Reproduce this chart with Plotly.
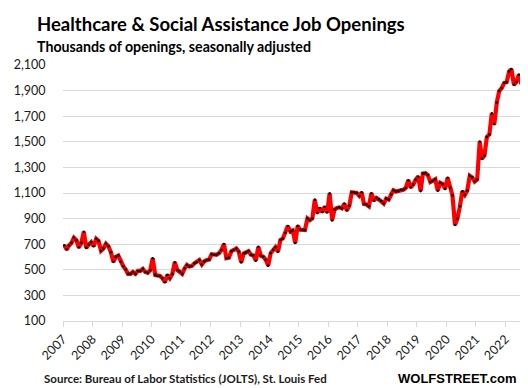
import pandas as pd
import plotly.graph_objects as go

# Monthly job openings (thousands), Jan 2007 - Oct 2022
start_month = "2007-01-01"
openings = [
    692, 658, 690, 710, 750, 731, 674, 710, 797, 671, 697, 716,      # 2007
    684, 742, 726, 648, 666, 703, 684, 637, 562, 601, 611, 562,      # 2008
    528, 502, 468, 468, 483, 468, 491, 491, 507, 483, 476, 496,      # 2009
    590, 460, 452, 452, 434, 403, 460, 434, 468, 559, 499, 486,      # 2010
    468, 512, 538, 525, 530, 551, 560, 576, 542, 566, 576, 580,      # 2011
    622, 617, 617, 630, 655, 702, 590, 594, 645, 655, 666, 643,      # 2012
    558, 627, 636, 646, 618, 612, 571, 680, 610, 602, 578, 532,      # 2013
    630, 656, 676, 641, 733, 745, 790, 842, 800, 808, 709, 843,      # 2014
    813, 813, 810, 902, 888, 902, 1048, 943, 983, 951, 993, 948,     # 2015
    1097, 886, 970, 983, 988, 980, 1017, 964, 1001, 1105, 1105, 1100,  # 2016
    1077, 1105, 1014, 1010, 996, 1098, 1040, 1062, 1050, 1038, 1017, 1056,  # 2017
    1048, 1088, 1121, 1112, 1115, 1125, 1125, 1139, 1200, 1143, 1166, 1203,  # 2018
    1229, 1115, 1252, 1255, 1240, 1186, 1195, 1207, 1118, 1180, 1170, 1132,  # 2019
    1219, 1140, 1080, 850, 900, 996, 1114, 1085, 1120, 1235, 1222, 1190,     # 2020
    1206, 1502, 1369, 1392, 1537, 1558, 1722, 1637, 1806, 1898, 1920, 1960,  # 2021
    1966, 2050, 2068, 1945, 1967, 2025, 1952, 1980, 2085, 2005,              # 2022
]
y_tick_values = [100, 300, 500, 700, 900, 1100, 1300, 1500, 1700, 1900, 2100]
y_tick_labels = ["100", "300", "500", "700", "900", "1,100", "1,300", "1,500",
                 "1,700", "1,900", "2,100"]
title_text = "Healthcare & Social Assistance Job Openings"
subtitle_text = "Thousands of openings, seasonally adjusted"
source_text = "Source: Bureau of Labor Statistics (JOLTS), St. Louis Fed"
brand_text = "WOLFSTREET.com"

months = pd.date_range(start_month, periods=len(openings), freq="MS")
dates = months + pd.Timedelta(days=15)
x_end = (months[-1] + pd.offsets.MonthBegin(1))

W, H = 528, 388
ML, MR, MT, MB = 44, 6, 57, 75
PW, PH = W - ML - MR, H - MT - MB


def px_x(px):
    return (px - ML) / PW


def px_y(py):
    return (H - MB - py) / PH


fig = go.Figure()
fig.add_trace(go.Scatter(
    x=dates, y=openings, mode="lines+markers",
    line=dict(color="#ff0000", width=4.2),
    marker=dict(color="#000000", size=2.6),
    hoverinfo="skip", showlegend=False,
))

fig.update_layout(
    width=W, height=H,
    margin=dict(l=ML, r=MR, t=MT, b=MB),
    paper_bgcolor="white", plot_bgcolor="white",
    font=dict(family="Lato", color="#1a1a1a"),
    xaxis=dict(
        type="date",
        range=[months[0], x_end],
        tick0=start_month, dtick="M12", tickformat="%Y",
        tickangle=-45,
        showgrid=False, showline=True, linecolor="#d9d9d9", linewidth=1,
        ticks="outside", ticklen=5, tickcolor="#d9d9d9",
        tickfont=dict(family="Lato", size=12.5, color="#1a1a1a"),
        zeroline=False,
    ),
    yaxis=dict(
        range=[100, 2100],
        tickvals=y_tick_values, ticktext=y_tick_labels,
        showgrid=True, gridcolor="#d9d9d9", gridwidth=1,
        zeroline=False, showline=False,
        ticks="outside", ticklen=14, tickcolor="rgba(0,0,0,0)",
        tickfont=dict(family="Lato", size=12.5, color="#1a1a1a"),
    ),
)

ann = [
    dict(text="<b>%s</b>" % title_text, x=px_x(15), y=px_y(16), xanchor="left",
         yanchor="middle", font=dict(family="Lato", size=18.5, color="#000")),
    dict(text="<b>%s</b>" % subtitle_text, x=px_x(15), y=px_y(38), xanchor="left",
         yanchor="middle", font=dict(family="Lato", size=14.2, color="#000")),
    dict(text="<b>%s</b>" % source_text, x=px_x(22), y=px_y(370), xanchor="left",
         yanchor="middle", font=dict(family="Lato", size=11.5, color="#1a1a1a")),
    dict(text="<b>%s</b>" % brand_text, x=px_x(510), y=px_y(370), xanchor="right",
         yanchor="middle", font=dict(family="Liberation Sans", size=13, color="#000")),
]
for a in ann:
    a.update(xref="paper", yref="paper", showarrow=False)
fig.update_layout(annotations=ann)

fig.write_html("out.html")
